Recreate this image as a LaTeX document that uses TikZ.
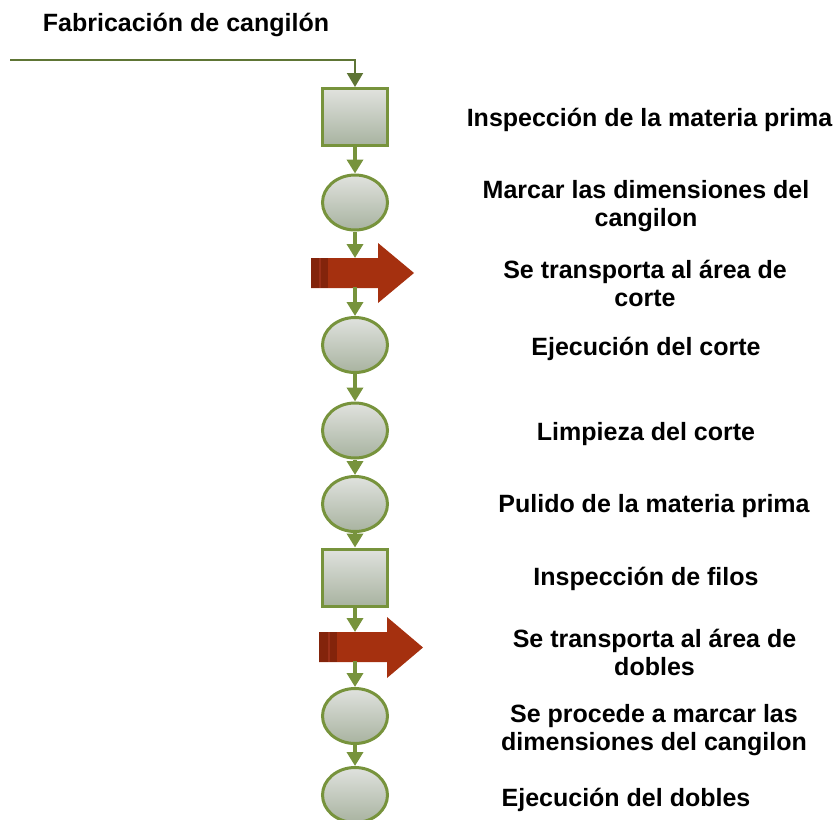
\documentclass[tikz,border=0pt]{standalone}
\usepackage{fontspec}
\setmainfont{Liberation Sans}
\usetikzlibrary{shapes.geometric,arrows.meta}
\definecolor{olivec}{HTML}{77933C}
\definecolor{olivedark}{HTML}{5E7535}
\definecolor{shadetop}{HTML}{E0E2DE}
\definecolor{shadebot}{HTML}{A8B3A0}
\definecolor{redarrow}{HTML}{A5300F}
\definecolor{reddark}{HTML}{83240B}
\definecolor{redline}{HTML}{9A3018}
\pgfdeclarelayer{bgl}
\pgfdeclarelayer{midl}
\pgfsetlayers{bgl,midl,main}
\tikzset{
  procbox/.style={draw=olivec, line width=3pt, rectangle, minimum width=65pt, minimum height=57pt, inner sep=0pt, top color=shadetop, bottom color=shadebot},
  opnode/.style={draw=olivec, line width=3pt, ellipse, minimum width=65pt, minimum height=55pt, inner sep=0pt, top color=shadetop, bottom color=shadebot},
  conn/.style={draw=olivec, line width=3.5pt, -{Triangle[width=16pt,length=14pt]}},
  lbl/.style={font=\bfseries\fontsize{25pt}{28pt}\selectfont, align=center, inner sep=0pt},
  redbody/.style={fill=redarrow},
}
\begin{document}
\begin{tikzpicture}[x=1pt,y=-1pt]
\useasboundingbox (0,0) rectangle (837,819);
% title
\node[lbl] (title) at (186,25) {Fabricación de cangilón};
% shapes
\node[procbox] (s1) at (355,117) {};
\node[opnode] (c1) at (355,202.5) {};
\node[opnode] (c2) at (355,345) {};
\node[opnode] (c3) at (355,430.5) {};
\node[opnode] (c4) at (355,504) {};
\node[procbox] (s2) at (355,577.5) {};
\node[opnode] (c5) at (355,716) {};
\node[opnode] (c6) at (355,795) {};
% red transport arrows
\begin{pgfonlayer}{bgl}
\fill[redbody] (311,258) -- (378,258) -- (378,243) -- (414,273) -- (378,303) -- (378,288) -- (311,288) -- cycle;
\fill[reddark] (311,258) rectangle (328,288);
\draw[redline, line width=1.5pt] (320,258) -- (320,288);
\fill[redbody] (319,632) -- (387,632) -- (387,617) -- (423,647.5) -- (387,678) -- (387,662) -- (319,662) -- cycle;
\fill[reddark] (319,632) rectangle (337,662);
\draw[redline, line width=1.5pt] (329,632) -- (329,662);
\end{pgfonlayer}
\coordinate (r1t) at (355,258);
\coordinate (r1b) at (355,287);
\coordinate (r2t) at (355,632);
\coordinate (r2b) at (355,661);
\coordinate (start) at (10,60);
\coordinate (corner) at (355,60);
% connectors
\begin{pgfonlayer}{midl}
\draw[draw=olivedark, line width=2pt, -{Triangle[width=16pt,length=14pt]}] (start) -- (corner) -- (s1.north);
\draw[conn] (s1.south) -- (c1.north);
\draw[conn] (c1.south) -- (r1t);
\draw[conn] (r1b) -- (c2.north);
\draw[conn] (c2.south) -- (c3.north);
\draw[conn] (c3.south) -- (c4.north);
\draw[conn] (c4.south) -- (s2.north);
\draw[conn] (s2.south) -- (r2t);
\draw[conn] (r2b) -- (c5.north);
\draw[conn] (c5.south) -- (c6.north);
\end{pgfonlayer}
% labels
\node[lbl] (t1) at (649.5,119.5) {Inspección de la materia prima};
\node[lbl] (t2) at (646,206.5) {Marcar las dimensiones del\\cangilon};
\node[lbl] (t3) at (645,283.5) {Se transporta al área de\\corte};
\node[lbl] (t4) at (646,348.5) {Ejecución del corte};
\node[lbl] (t5) at (646,434.5) {Limpieza del corte};
\node[lbl] (t6) at (654,506.5) {Pulido de la materia prima};
\node[lbl] (t7) at (646,578.5) {Inspección de filos};
\node[lbl] (t8) at (654.5,652.5) {Se transporta al área de\\dobles};
\node[lbl] (t9) at (654,730.5) {Se procede a marcar las\\dimensiones del cangilon};
\node[lbl] (t10) at (626,799.5) {Ejecución del dobles};
\end{tikzpicture}
\end{document}
